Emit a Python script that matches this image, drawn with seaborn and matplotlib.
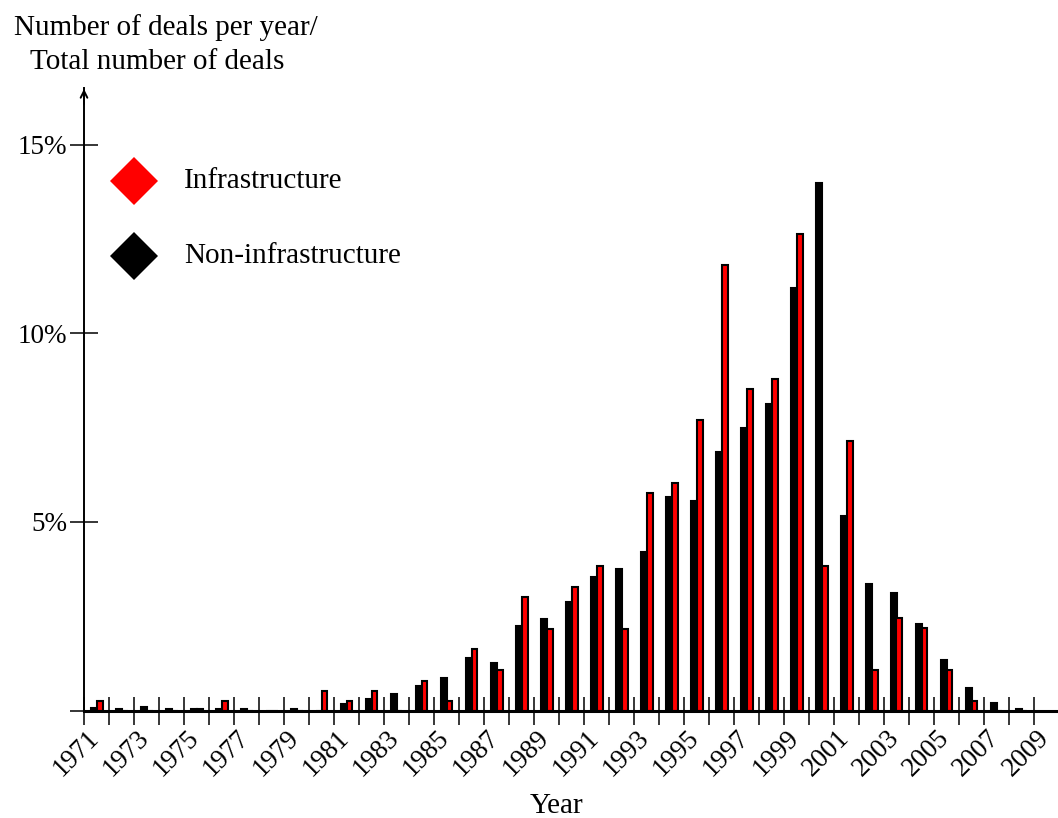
import numpy as np
import pandas as pd
import matplotlib
matplotlib.use("Agg")
import matplotlib.pyplot as plt
import matplotlib.transforms as mtransforms
import seaborn as sns
from matplotlib.lines import Line2D

years = list(range(1971, 2009))
non_infra = [0.07, 0.04, 0.08, 0.04, 0.04, 0.04, 0.04, 0.0, 0.03, 0.0,
             0.16, 0.31, 0.45, 0.66, 0.85, 1.38, 1.27, 2.24, 2.43, 2.88,
             3.54, 3.75, 4.20, 5.65, 5.56, 6.86, 7.49, 8.13, 11.21, 13.97,
             5.15, 3.35, 3.12, 2.30, 1.33, 0.59, 0.19, 0.03]
infra = [0.25, 0.0, 0.0, 0.0, 0.04, 0.25, 0.0, 0.0, 0.0, 0.53,
         0.25, 0.53, 0.0, 0.79, 0.25, 1.62, 1.07, 3.00, 2.17, 3.27,
         3.82, 2.17, 5.77, 6.03, 7.69, 11.81, 8.51, 8.78, 12.64, 3.83,
         7.14, 1.07, 2.45, 2.18, 1.07, 0.25, 0.0, 0.0]
tick_years = list(range(1971, 2010))
ytick_vals = [0, 5, 10, 15]
ytick_labels = ["", "5%", "10%", "15%"]
series_names = ["Non-infrastructure", "Infrastructure"]
series_colors = ["black", "#ff0000"]

df = pd.DataFrame({
    "Year": [str(y) for y in years] * 2,
    "Share": non_infra + infra,
    "Type": [series_names[0]] * len(years) + [series_names[1]] * len(years),
})

sns.set_theme(style="white")
plt.rcParams["font.family"] = ["Liberation Serif", "DejaVu Serif"]
plt.rcParams["text.color"] = "black"
plt.rcParams["xtick.color"] = "black"
plt.rcParams["ytick.color"] = "black"
plt.rcParams["axes.labelcolor"] = "black"

W, H = 1058, 818
fig = plt.figure(figsize=(W / 100, H / 100), dpi=100)
x0, x1 = 84, 1058
y_bot, y_top = 710.5, 88
ax = fig.add_axes([x0 / W, 1 - y_bot / H, (x1 - x0) / W, (y_bot - y_top) / H])

sns.barplot(data=df, x="Year", y="Share", hue="Type", hue_order=series_names,
            palette=series_colors, width=0.48, edgecolor="black", linewidth=1.5,
            legend=False, ax=ax, saturation=1)

ax.set_xlim(-0.5, -0.5 + (x1 - x0) / 25.0)
ax.set_ylim(0, 16.5)

ticks = [i - 0.5 for i in range(len(tick_years))]
labels = [str(y) if (y - 1971) % 2 == 0 else "" for y in tick_years]
ax.set_xticks(ticks)
ax.set_xticklabels(labels, rotation=45, ha="center", fontsize=19.5, color="black")
ax.set_yticks(ytick_vals)
ax.set_yticklabels(ytick_labels, fontsize=19.5, color="black")
ax.tick_params(axis="both", direction="inout", length=20, width=1.1, color="black",
               bottom=True, left=True)
ax.tick_params(axis="x", pad=1)
ax.tick_params(axis="y", pad=2)

shift = mtransforms.ScaledTranslation(-8 / 100, 0, fig.dpi_scale_trans)
for lab in ax.get_xticklabels():
    lab.set_transform(lab.get_transform() + shift)

for s in ["top", "right"]:
    ax.spines[s].set_visible(False)
ax.spines["left"].set_color("black")
ax.spines["left"].set_linewidth(1.4)
ax.spines["bottom"].set_color("black")
ax.spines["bottom"].set_linewidth(2.2)
ax.set_xlabel("")
ax.set_ylabel("")

# arrow at top of y-axis
ax.annotate("", xy=(-0.5, 16.55), xytext=(-0.5, 16.0),
            arrowprops=dict(arrowstyle="->", lw=1.4, color="black",
                            mutation_scale=12), annotation_clip=False)

# axis titles
fs = 21
fig.text(166 / W, 1 - 28 / H, "Number of deals per year/", ha="center", va="center", fontsize=fs)
fig.text(157 / W, 1 - 62 / H, "Total number of deals", ha="center", va="center", fontsize=fs)
fig.text(557 / W, 1 - 806 / H, "Year", ha="center", va="center", fontsize=fs)

# legend
leg_items = [("Infrastructure", "#ff0000", 181), ("Non-infrastructure", "black", 256)]
for name, col, yp in leg_items:
    fig.add_artist(Line2D([134 / W], [1 - yp / H], marker="D", markersize=24.5,
                          color=col, markeredgewidth=0, linestyle="none",
                          transform=fig.transFigure))
    fig.text(184 / W, 1 - yp / H, name, ha="left", va="center", fontsize=fs)

fig.savefig("out.png", dpi=100)
